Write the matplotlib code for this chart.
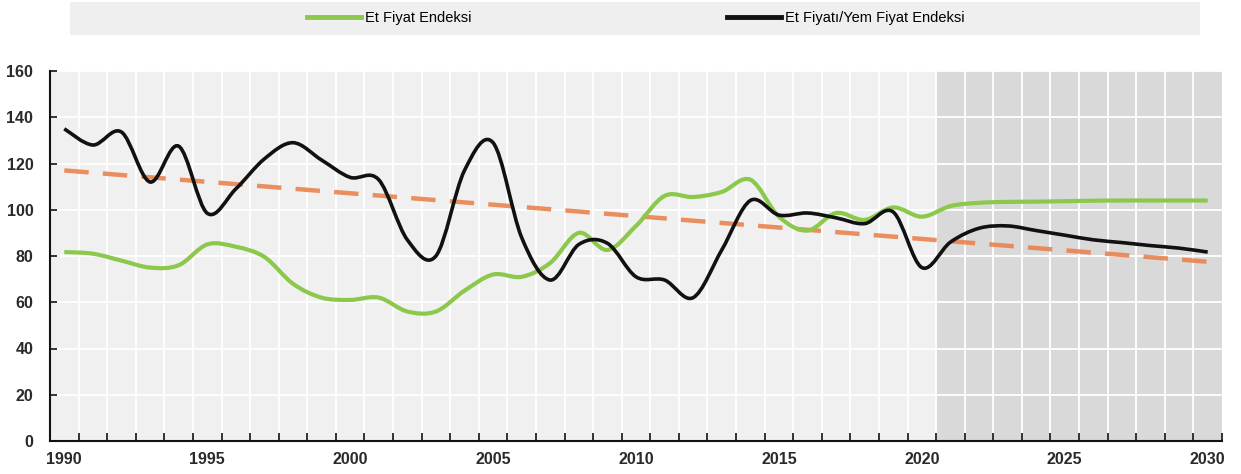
import numpy as np
import matplotlib
matplotlib.use("Agg")
import matplotlib.pyplot as plt
from matplotlib.path import Path
from matplotlib.patches import PathPatch, Rectangle
from matplotlib.lines import Line2D

years = list(range(1990, 2031))
et_fiyat = [81.7, 81, 78, 75, 76, 85, 84, 79.6, 68, 62, 61, 62, 56,
            56, 65, 72, 71, 77, 90, 82.6, 93, 106, 105.5, 107.7, 113, 97, 91,
            98.6, 95.6, 101, 97, 101.6, 103, 103.4, 103.5, 103.7, 103.9, 104, 104, 104, 104]
et_yem = [135, 128, 133.6, 112, 127.5, 98.5, 109, 122, 129, 121.5, 114, 113, 87,
          80, 117, 129, 88, 69.6, 85, 85.5, 71, 69.6, 62, 82.6, 104, 97.7, 98.6,
          96.5, 94, 99, 75, 86, 92, 93, 91, 89, 87, 85.8, 84.5, 83.4, 81.7]
trend_years = [1990, 2030]
trend_vals = [117, 77.5]
xtick_labels = ["1990", "1995", "2000", "2005", "2010", "2015", "2020", "2025", "2030"]
yticks = [0, 20, 40, 60, 80, 100, 120, 140, 160]
legend_labels = ["Et Fiyat Endeksi", "Et Fiyatı/Yem Fiyat Endeksi"]

FONT = ["Liberation Sans", "DejaVu Sans"]
plt.rcParams["font.family"] = FONT


def smooth_path(x, y):
    x = np.asarray(x, float)
    y = np.asarray(y, float)
    pts = np.column_stack([x, y])
    n = len(pts)
    verts = [pts[0]]
    codes = [Path.MOVETO]
    for i in range(n - 1):
        p0 = pts[i - 1] if i > 0 else pts[i]
        p1 = pts[i]
        p2 = pts[i + 1]
        p3 = pts[i + 2] if i + 2 < n else pts[i + 1]
        c1 = p1 + (p2 - p0) / 6.0
        c2 = p2 - (p3 - p1) / 6.0
        verts += [c1, c2, p2]
        codes += [Path.CURVE4] * 3
    return Path(verts, codes)


fig = plt.figure(figsize=(12.41, 4.74), dpi=100)
ax = fig.add_axes([50 / 1241, 33 / 474, (1222 - 50) / 1241, (441 - 71) / 474])
ax.set_facecolor("#f0f0f0")
ax.set_xlim(years[0] - 0.5, years[-1] + 0.5)
ax.set_ylim(0, 160)

ax.axvspan(2020.5, years[-1] + 0.5, color="#d9d9d9", zorder=0, lw=0)

for b in np.arange(years[0] + 0.5, years[-1], 1.0):
    ax.axvline(b, color="white", lw=1.3, zorder=1)
for yv in yticks[1:]:
    ax.axhline(yv, color="white", lw=1.3, zorder=1)

ax.plot(trend_years, trend_vals, color="#e9834e", lw=3.2, alpha=0.9,
        dashes=(5.5, 3.2), zorder=2, solid_capstyle="butt")
ax.add_patch(PathPatch(smooth_path(years, et_fiyat), fill=False,
                       edgecolor="#8cc84b", lw=3.0, zorder=3))
ax.add_patch(PathPatch(smooth_path(years, et_yem), fill=False,
                       edgecolor="#111111", lw=2.6, zorder=4))

for s in ["top", "right"]:
    ax.spines[s].set_visible(False)
for s in ["left", "bottom"]:
    ax.spines[s].set_linewidth(1.5)
    ax.spines[s].set_color("#111111")
    ax.spines[s].set_zorder(5)

lab_color = "#2a2a2a"
ax.set_yticks(yticks)
ax.set_yticklabels([str(v) for v in yticks], fontsize=11.5, fontweight="bold",
                   color=lab_color)
ax.tick_params(axis="y", direction="in", length=5, width=1.2, pad=12,
               color="#111111")

ax.set_xticks(np.arange(years[0] + 0.5, years[-1] + 1, 1.0))
ax.set_xticklabels([])
ax.tick_params(axis="x", which="major", direction="in", length=6, width=1.2,
               color="#111111")
ax.set_xticks([int(l) for l in xtick_labels], minor=True)
ax.set_xticklabels(xtick_labels, minor=True, fontsize=11.5, fontweight="bold",
                   color=lab_color)
ax.tick_params(axis="x", which="minor", length=0, pad=8)

fig.patches.append(Rectangle((70 / 1241, (474 - 35) / 474), 1130 / 1241, 33 / 474,
                             transform=fig.transFigure, facecolor="#efefef",
                             edgecolor="none", zorder=0))
handles = [Line2D([], [], color="#8cc84b", lw=3.5),
           Line2D([], [], color="#111111", lw=3.5)]
fig.legend(handles, legend_labels, loc="center", ncol=2,
           bbox_to_anchor=(636 / 1241, (474 - 18) / 474), frameon=False,
           fontsize=10.5, handlelength=3.7, handletextpad=0.3,
           columnspacing=17.5)

fig.savefig("out.png", dpi=100)
